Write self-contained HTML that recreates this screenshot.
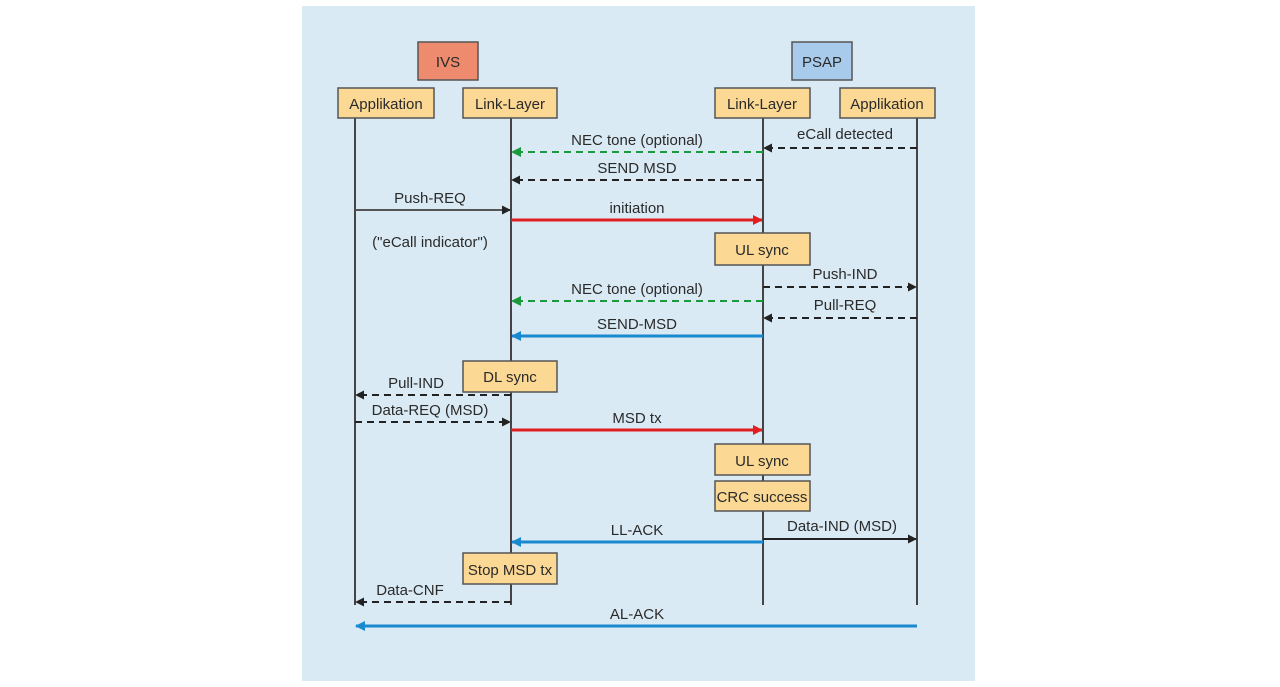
<!DOCTYPE html>
<html><head><meta charset="utf-8"><style>
html,body{margin:0;padding:0;background:#fff;width:1280px;height:687px;overflow:hidden}
svg text{font-family:"Liberation Sans Narrow","Liberation Sans",sans-serif;font-size:15px;fill:#2a2a2a;text-anchor:middle}
</style></head><body>
<svg width="1280" height="687" viewBox="0 0 1280 687" xmlns="http://www.w3.org/2000/svg">
<defs>
<marker id="k" viewBox="0 0 10 10" refX="9" refY="5" markerWidth="9" markerHeight="9" markerUnits="userSpaceOnUse" orient="auto"><path d="M0,0L10,5L0,10z" fill="#222"/></marker>
<marker id="g" viewBox="0 0 10 10" refX="9" refY="5" markerWidth="10" markerHeight="10" markerUnits="userSpaceOnUse" orient="auto"><path d="M0,0L10,5L0,10z" fill="#1a9a3a"/></marker>
<marker id="r" viewBox="0 0 10 10" refX="9" refY="5" markerWidth="10" markerHeight="10" markerUnits="userSpaceOnUse" orient="auto"><path d="M0,0L10,5L0,10z" fill="#e02020"/></marker>
<marker id="b" viewBox="0 0 10 10" refX="9" refY="5" markerWidth="10" markerHeight="10" markerUnits="userSpaceOnUse" orient="auto"><path d="M0,0L10,5L0,10z" fill="#1a8ad0"/></marker>
</defs>
<rect x="302" y="6" width="673" height="675" fill="#d9eaf4"/>
<g stroke="#444" stroke-width="2">
<line x1="355" y1="118" x2="355" y2="605"/>
<line x1="511" y1="118" x2="511" y2="605"/>
<line x1="763" y1="118" x2="763" y2="605"/>
<line x1="917" y1="118" x2="917" y2="605"/>
</g>
<g stroke="#555" stroke-width="1.5">
<rect x="418" y="42" width="60" height="38" fill="#ee8a6e"/>
<rect x="792" y="42" width="60" height="38" fill="#a8cbec"/>
<g fill="#fbd894">
<rect x="338" y="88" width="96" height="30"/>
<rect x="463" y="88" width="94" height="30"/>
<rect x="715" y="88" width="95" height="30"/>
<rect x="840" y="88" width="95" height="30"/>
<rect x="715" y="233" width="95" height="32"/>
<rect x="463" y="361" width="94" height="31"/>
<rect x="715" y="444" width="95" height="31"/>
<rect x="715" y="481" width="95" height="30"/>
<rect x="463" y="553" width="94" height="31"/>
</g></g>
<text x="448" y="67">IVS</text><text x="822" y="67">PSAP</text>
<text x="386" y="109">Applikation</text><text x="510" y="109">Link-Layer</text>
<text x="762" y="109">Link-Layer</text><text x="887" y="109">Applikation</text>
<text x="762" y="255">UL sync</text><text x="510" y="382">DL sync</text>
<text x="762" y="466">UL sync</text><text x="762" y="502">CRC success</text>
<text x="510" y="575">Stop MSD tx</text>
<g stroke-width="2" fill="none">
<line x1="917" y1="148" x2="764" y2="148" stroke="#222" stroke-dasharray="7,5" marker-end="url(#k)"/>
<line x1="763" y1="152" x2="512" y2="152" stroke="#1a9a3a" stroke-dasharray="7,5" marker-end="url(#g)"/>
<line x1="763" y1="180" x2="512" y2="180" stroke="#222" stroke-dasharray="7,5" marker-end="url(#k)"/>
<line x1="355" y1="210" x2="510" y2="210" stroke="#555" marker-end="url(#k)"/>
<line x1="511" y1="220" x2="762" y2="220" stroke="#e02020" stroke-width="3" marker-end="url(#r)"/>
<line x1="763" y1="287" x2="916" y2="287" stroke="#222" stroke-dasharray="7,5" marker-end="url(#k)"/>
<line x1="763" y1="301" x2="512" y2="301" stroke="#1a9a3a" stroke-dasharray="7,5" marker-end="url(#g)"/>
<line x1="917" y1="318" x2="764" y2="318" stroke="#222" stroke-dasharray="7,5" marker-end="url(#k)"/>
<line x1="763" y1="336" x2="512" y2="336" stroke="#1a8ad0" stroke-width="3" marker-end="url(#b)"/>
<line x1="511" y1="395" x2="356" y2="395" stroke="#222" stroke-dasharray="7,5" marker-end="url(#k)"/>
<line x1="355" y1="422" x2="510" y2="422" stroke="#222" stroke-dasharray="7,5" marker-end="url(#k)"/>
<line x1="511" y1="430" x2="762" y2="430" stroke="#e02020" stroke-width="3" marker-end="url(#r)"/>
<line x1="763" y1="542" x2="512" y2="542" stroke="#1a8ad0" stroke-width="3" marker-end="url(#b)"/>
<line x1="763" y1="539" x2="916" y2="539" stroke="#222" marker-end="url(#k)"/>
<line x1="511" y1="602" x2="356" y2="602" stroke="#222" stroke-dasharray="7,5" marker-end="url(#k)"/>
<line x1="917" y1="626" x2="356" y2="626" stroke="#1a8ad0" stroke-width="3" marker-end="url(#b)"/>
</g>
<text x="845" y="139">eCall detected</text>
<text x="637" y="145">NEC tone (optional)</text>
<text x="637" y="173">SEND MSD</text>
<text x="430" y="203">Push-REQ</text>
<text x="637" y="213">initiation</text>
<text x="430" y="247">("eCall indicator")</text>
<text x="845" y="279">Push-IND</text>
<text x="637" y="294">NEC tone (optional)</text>
<text x="845" y="310">Pull-REQ</text>
<text x="637" y="329">SEND-MSD</text>
<text x="416" y="388">Pull-IND</text>
<text x="430" y="415">Data-REQ (MSD)</text>
<text x="637" y="423">MSD tx</text>
<text x="637" y="535">LL-ACK</text>
<text x="842" y="531">Data-IND (MSD)</text>
<text x="410" y="595">Data-CNF</text>
<text x="637" y="619">AL-ACK</text>
</svg>
</body></html>
